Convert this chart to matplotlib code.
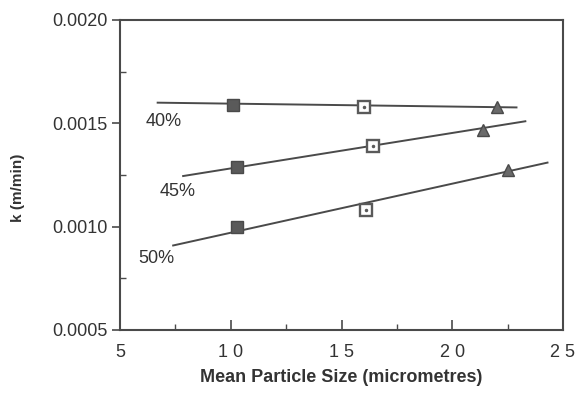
import matplotlib.pyplot as plt
from matplotlib.ticker import MultipleLocator

plt.rcParams['font.family'] = ['Liberation Sans', 'DejaVu Sans']

# measured points (mean particle size, k)
sizes_40 = [10.1, 16.0, 22.0]
k_40 = [0.00159, 0.00158, 0.001577]
sizes_45 = [10.3, 16.4, 21.4]
k_45 = [0.00129, 0.00139, 0.00147]
sizes_50 = [10.3, 16.1, 22.5]
k_50 = [0.00100, 0.00108, 0.001274]

# fitted lines (endpoints)
fit_x_40 = [6.7, 22.9]
fit_k_40 = [0.00160, 0.001577]
fit_x_45 = [7.85, 23.3]
fit_k_45 = [0.001245, 0.00151]
fit_x_50 = [7.4, 24.3]
fit_k_50 = [0.000909, 0.00131]

labels = ["40%", "45%", "50%"]
label_x = [6.95, 7.6, 6.65]
label_k = [0.00151, 0.001168, 0.000846]

ink = "#4a4a4a"

fig = plt.figure(figsize=(5.76, 4), dpi=100)
ax = fig.add_axes([120 / 576, 1 - 330 / 400, 443 / 576, 310 / 400])

for fx, fk in [(fit_x_40, fit_k_40), (fit_x_45, fit_k_45), (fit_x_50, fit_k_50)]:
    ax.plot(fx, fk, color=ink, lw=1.4, zorder=2)

# first point filled square, second open square, third filled triangle
for xs, ks in [(sizes_40, k_40), (sizes_45, k_45), (sizes_50, k_50)]:
    ax.plot(xs[0], ks[0], 's', ms=8, color="#5a5a5a", mec=ink, zorder=3)
    ax.plot(xs[1], ks[1], 's', ms=8, mfc="white", mec="#5a5a5a", mew=1.7, zorder=3)
    ax.plot(xs[1], ks[1], '.', ms=3, color="#5a5a5a", zorder=4)
    ax.plot(xs[2], ks[2], '^', ms=9, color="#6a6a6a", mec=ink, zorder=3)

for lab, lx, lk in zip(labels, label_x, label_k):
    ax.text(lx, lk, lab, fontsize=13, color="#333333", ha="center", va="center")

ax.set_xlim(5, 25)
ax.set_ylim(0.0005, 0.0020)
ax.set_xticks([5, 10, 15, 20, 25])
ax.set_xticklabels(["5", "1 0", "1 5", "2 0", "2 5"])
ax.set_yticks([0.0005, 0.0010, 0.0015, 0.0020])
ax.set_yticklabels(["0.0005", "0.0010", "0.0015", "0.0020"])
ax.xaxis.set_minor_locator(MultipleLocator(2.5))
ax.yaxis.set_minor_locator(MultipleLocator(0.00025))

ax.tick_params(axis='x', which='major', direction='in', length=7, width=1.2,
               colors=ink, labelcolor="#333333", labelsize=13, pad=10)
ax.tick_params(axis='x', which='minor', direction='in', length=4, width=1, colors=ink)
ax.tick_params(axis='y', which='major', direction='out', length=6, width=1.2,
               colors=ink, labelcolor="#333333", labelsize=13, pad=3)
ax.tick_params(axis='y', which='minor', direction='in', length=4, width=1, colors=ink)
for sp in ax.spines.values():
    sp.set_color(ink)
    sp.set_linewidth(1.5)

ax.set_xlabel("Mean Particle Size (micrometres)", fontsize=13, fontweight='bold',
              color="#333333", labelpad=6)
ax.set_ylabel("k (m/min)", fontsize=11, fontweight='bold', color="#333333")
ax.yaxis.set_label_coords(-0.215, 0.46)

fig.savefig("out.png", dpi=100)
